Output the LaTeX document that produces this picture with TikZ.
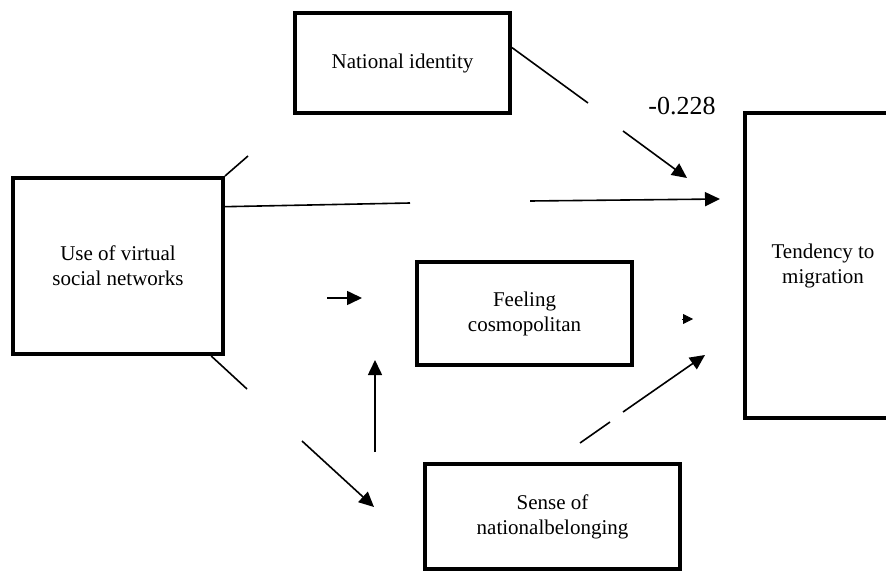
\documentclass[tikz,border=0pt]{standalone}
\usepackage{fontspec}
\setmainfont{Liberation Serif}
\usetikzlibrary{arrows.meta}

\begin{document}
\begin{tikzpicture}[x=0.5pt, y=-0.5pt,
  box/.style={draw, line width=2pt, align=center, inner sep=0pt,
    font=\fontsize{10.5}{12.5}\selectfont},
  link/.style={line width=0.8pt},
  arr/.style={link, -{Triangle[length=7.5pt, width=7pt]}}]

%─────────────
% Frame (pixel grid of the figure)
%─────────────
\useasboundingbox (0,0) rectangle (886,572);

%─────────────
% Boxes
%─────────────
\node[box, minimum width=105pt, minimum height=88pt]    (use)    at (118,266)   {Use of virtual\\social networks};
\node[box, minimum width=107.5pt, minimum height=50pt]  (natid)  at (402.5,63)  {National identity};
\node[box, minimum width=107.5pt, minimum height=51.5pt] (cosmo) at (524.5,313.5) {Feeling\\cosmopolitan};
\node[box, minimum width=127.5pt, minimum height=52.5pt] (belong) at (552.5,516.5) {Sense of\\nationalbelonging};
\node[box, minimum width=78pt, minimum height=152.5pt]  (migr)   at (823,265.5) {Tendency to\\migration};

%─────────────
% Loose ends of the broken paths
%─────────────
\coordinate (upT)   at (248,156);
\coordinate (dirA)  at (410,203);
\coordinate (dirB)  at (530,201);
\coordinate (dirT)  at (720,199);
\coordinate (natA)  at (588,103);
\coordinate (natB)  at (623,131);
\coordinate (natT)  at (687,178);
\coordinate (cosA)  at (327,298);
\coordinate (cosT)  at (362,298);
\coordinate (lowA)  at (247,389);
\coordinate (belA)  at (302,441);
\coordinate (belT)  at (374,507);
\coordinate (vertA) at (375,452);
\coordinate (vertT) at (375,360);
\coordinate (outA)  at (580,443);
\coordinate (outB)  at (610,422);
\coordinate (outC)  at (623,412);
\coordinate (outT)  at (705,355);
\coordinate (tipA)  at (682,319);
\coordinate (tipT)  at (693,319);

%─────────────
% Paths
%─────────────
\draw[link] (use.north east) -- (upT);
\draw[link] (use.29) -- (dirA);
\draw[arr]  (dirB) -- (dirT);
\draw[link] (natid.8) -- (natA);
\draw[arr]  (natB) -- (natT);
\draw[arr]  (cosA) -- (cosT);
\draw[link] (use.-44) -- (lowA);
\draw[arr]  (belA) -- (belT);
\draw[arr]  (vertA) -- (vertT);
\draw[link] (outA) -- (outB);
\draw[arr]  (outC) -- (outT);
\draw[-{Triangle[length=5pt, width=5pt]}] (tipA) -- (tipT);

%─────────────
% Coefficient
%─────────────
\node[font=\fontsize{13}{15}\selectfont] (coef) at (682,106) {-0.228};

\end{tikzpicture}
\end{document}
